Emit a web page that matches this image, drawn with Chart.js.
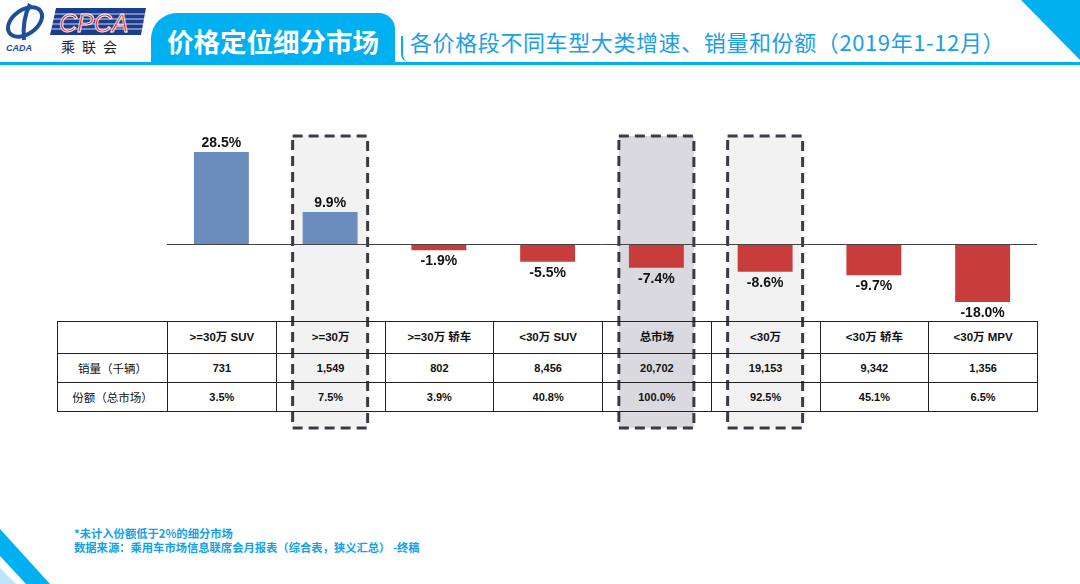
<!DOCTYPE html>
<html>
<head>
<meta charset="utf-8">
<script src="https://cdn.jsdelivr.net/npm/chart.js@4.4.1/dist/chart.umd.min.js"></script>
<style>
  html, body { margin: 0; padding: 0; }
  body { width: 1080px; height: 584px; position: relative; overflow: hidden; background: #fff;
         font-family: "Liberation Sans", Arial, "Noto Sans CJK SC", sans-serif; }
  .abs { position: absolute; }
  #topline { left: 0; top: 62px; width: 1080px; height: 3px; background: #00b0f0; }
  #titlebox { left: 151px; top: 13px; width: 244px; height: 51px; background: #00b0f0;
              border-radius: 26px 16px 0 0; color: #fff; font: bold 26.5px "Noto Sans CJK SC", sans-serif;
              text-align: center; line-height: 56px; }
  #subframe { left: 401px; top: 36px; width: 679px; height: 26px; border-left: 2px solid #00b0f0;
              border-bottom-left-radius: 8px; }
  #subtitle { left: 410px; top: 25px; font: 22px "Noto Sans CJK SC", sans-serif; letter-spacing: 0.6px;
              color: #1aa0e6; white-space: nowrap; }
  #grid { left: 57px; top: 321px; border-collapse: collapse; table-layout: fixed; width: 980px; }
  #grid td { border: 1.5px solid #222; text-align: center; font-size: 11.5px; color: #111; padding: 0; }
  #grid tr.head td { height: 27px; font-weight: bold; padding-bottom: 4px; }
  #grid tr.row td { height: 28px; font-weight: bold; font-size: 11px; }
  #grid tr.row td.lbl { font-weight: normal; font-size: 11.5px; font-family: "Noto Sans CJK SC", sans-serif; }
  #note { left: 74px; top: 526px; color: #14a0e8; font: bold 11.3px/14px "Noto Sans CJK SC", sans-serif; white-space: nowrap; }
  canvas { position: absolute; left: 167px; top: 90px; }
</style>
</head>
<body>

<svg class="abs" id="deco" width="1080" height="584" style="left:0;top:0">
  <!-- CADA logo -->
  <ellipse cx="25" cy="22" rx="19" ry="12" transform="rotate(-35 25 22)" fill="none" stroke="#1f4e9c" stroke-width="4"/>
  <path d="M30 4 Q22 20 24 40" fill="none" stroke="#1f4e9c" stroke-width="4"/>
  <text x="6" y="51" font-family="Liberation Sans" font-style="italic" font-weight="bold" font-size="9" fill="#1f4e9c">CADA</text>
  <!-- CPCA box -->
  <polygon points="56,8 146,8 141,35 50,35" fill="#1b3d8f"/>
  <g stroke="#ffffff" stroke-width="1" opacity="0.8">
    <line x1="54" y1="14" x2="145" y2="14"/><line x1="53" y1="19" x2="144" y2="19"/>
    <line x1="52" y1="24" x2="143" y2="24"/><line x1="51" y1="29" x2="142" y2="29"/>
  </g>
  <text x="59" y="32" font-family="Liberation Sans" font-style="italic" font-size="25" fill="#e8232a" stroke="#fff" stroke-width="0.8">CPCA</text>
  <text x="61" y="52" font-family="Noto Sans CJK SC" font-size="14" fill="#222" letter-spacing="7">乘联会</text>
  <!-- corner decorations -->
  <polygon points="1021,0 1080,0 1080,60" fill="#00b0f0"/>
  <polygon points="0,529 50,584 26,584 0,556" fill="#00b0f0"/>
  <polygon points="0,568 16,584 0,584" fill="#bfe4f6"/>
</svg>

<div class="abs" id="topline"></div>
<div class="abs" id="subframe"></div>
<div class="abs" id="titlebox">价格定位细分市场</div>
<div class="abs" id="subtitle">各价格段不同车型大类增速、销量和份额（2019年1-12月）</div>

<svg class="abs" id="boxes" width="1080" height="584" style="left:0;top:0"></svg>

<table class="abs" id="grid"></table>

<canvas id="chart" width="870" height="260"></canvas>

<div class="abs" id="note">*未计入份额低于2%的细分市场<br>数据来源：乘用车市场信息联席会月报表（综合表，狭义汇总） -终稿</div>

<script>
// data
const categories = [">=30万 SUV", ">=30万", ">=30万 轿车", "<30万 SUV", "总市场", "<30万", "<30万 轿车", "<30万 MPV"];
const growth = [28.5, 9.9, -1.9, -5.5, -7.4, -8.6, -9.7, -18.0];
const sales = [731, 1549, 802, 8456, 20702, 19153, 9342, 1356];
const share = [3.5, 7.5, 3.9, 40.8, 100.0, 92.5, 45.1, 6.5];
const rowLabels = ["销量（千辆）", "份额（总市场）"];
const highlighted = [1, 4, 5];   // columns framed by dashed boxes
const darkHighlight = [4];

const BLUE = "#6b8dbd";
const RED = "#c83c3c";

// table
const grid = document.getElementById("grid");
const colW = 980 - 110;
let html = `<colgroup><col style="width:110px">${categories.map(() => `<col style="width:${colW / categories.length}px">`).join("")}</colgroup>`;
html += `<tr class="head"><td></td>${categories.map((c) => `<td>${c}</td>`).join("")}</tr>`;
html += `<tr class="row"><td class="lbl">${rowLabels[0]}</td>${sales.map((v) => `<td>${v.toLocaleString("en-US")}</td>`).join("")}</tr>`;
html += `<tr class="row"><td class="lbl">${rowLabels[1]}</td>${share.map((v) => `<td>${v.toFixed(1)}%</td>`).join("")}</tr>`;
grid.innerHTML = html;

// dashed highlight boxes behind the columns
const boxes = document.getElementById("boxes");
const colLeft = 167, step = colW / categories.length;
boxes.innerHTML = highlighted.map((i) => {
  const cx = colLeft + step * (i + 0.5);
  const fill = darkHighlight.includes(i) ? "#d9d9df" : "#f2f2f2";
  return `<rect x="${cx - 37.5}" y="136" width="75" height="292" fill="${fill}" stroke="#3b3b47" stroke-width="3" stroke-dasharray="10 6"/>`;
}).join("");

const labelPlugin = {
  id: "barLabels",
  afterDatasetsDraw(chart) {
    const { ctx, chartArea, scales } = chart;
    const y0 = Math.round(scales.y.getPixelForValue(0)) + 0.5;
    ctx.save();
    ctx.strokeStyle = "#444";
    ctx.lineWidth = 1;
    ctx.beginPath();
    ctx.moveTo(chartArea.left - 2, y0);
    ctx.lineTo(chartArea.right, y0);
    ctx.stroke();

    ctx.font = "bold 14px 'Liberation Sans', Arial, sans-serif";
    ctx.fillStyle = "#111";
    ctx.textAlign = "center";
    ctx.textBaseline = "middle";
    chart.getDatasetMeta(0).data.forEach((bar, i) => {
      const v = growth[i];
      const y = v >= 0 ? bar.y - 9 : bar.y + 11;
      ctx.fillText(v.toFixed(1) + "%", bar.x, y);
    });
    ctx.restore();
  },
};

new Chart(document.getElementById("chart"), {
  type: "bar",
  data: {
    labels: categories,
    datasets: [{
      data: growth,
      backgroundColor: growth.map((v) => (v >= 0 ? BLUE : RED)),
      borderWidth: 0,
      barPercentage: 1,
      categoryPercentage: 0.505,
    }],
  },
  options: {
    responsive: false,
    animation: false,
    layout: { padding: { top: 25, bottom: 41.5, left: 0, right: 0 } },
    plugins: { legend: { display: false }, tooltip: { enabled: false } },
    scales: {
      x: { display: false },
      y: { display: false, min: -20, max: 40 },
    },
  },
  plugins: [labelPlugin],
});
</script>
</body>
</html>
